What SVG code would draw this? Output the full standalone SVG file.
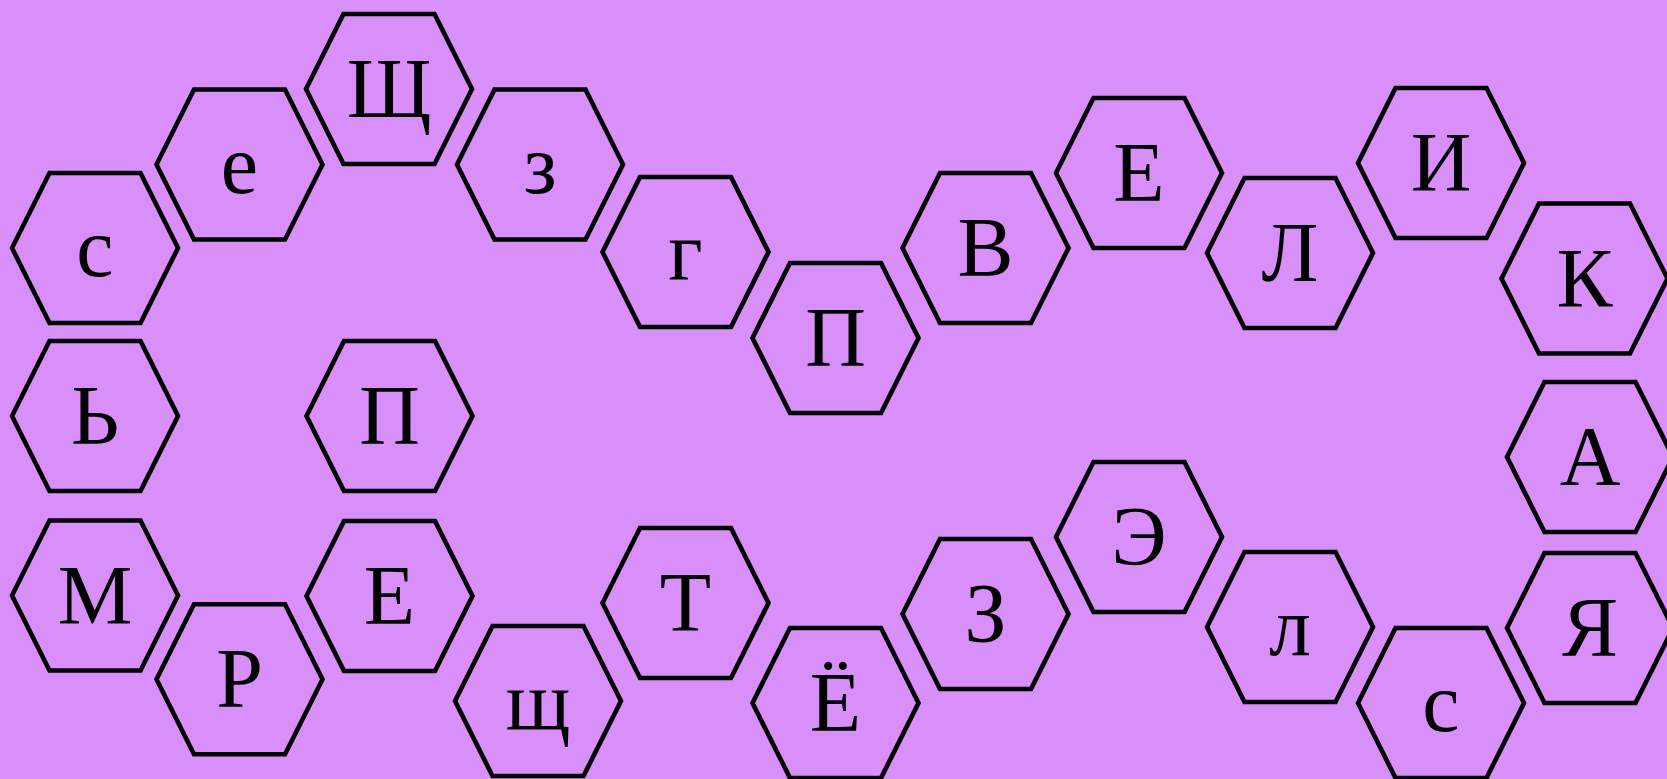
<svg xmlns="http://www.w3.org/2000/svg" width="1667" height="779" viewBox="0 0 1667 779">
<style>
.hex{fill:none;stroke:#000;stroke-width:4.6;stroke-linejoin:miter}
.t{font-family:"Liberation Serif","Times New Roman",serif;font-size:84px;fill:#000;text-anchor:middle}
</style>
<defs>
<polygon id="hx" class="hex" points="-83,0 -45.5,-75 45.5,-75 83,0 45.5,75 -45.5,75"/>
</defs>
<rect width="1667" height="779" fill="#d98ffa"/>
<g id="n1" transform="translate(95,248)"><use href="#hx"/><text class="t" y="28">с</text></g>
<g id="n2" transform="translate(239.5,164.5)"><use href="#hx"/><text class="t" y="28">е</text></g>
<g id="n3" transform="translate(389,89)"><use href="#hx"/><text class="t" y="28">Щ</text></g>
<g id="n4" transform="translate(540,164.5)"><use href="#hx"/><text class="t" y="28">з</text></g>
<g id="n5" transform="translate(685.5,252)"><use href="#hx"/><text class="t" y="28">г</text></g>
<g id="n6" transform="translate(835.5,338)"><use href="#hx"/><text class="t" y="28">П</text></g>
<g id="n7" transform="translate(985.5,248)"><use href="#hx"/><text class="t" y="28">В</text></g>
<g id="n8" transform="translate(1139,173)"><use href="#hx"/><text class="t" y="28">Е</text></g>
<g id="n9" transform="translate(1290,253)"><use href="#hx"/><text class="t" y="28">Л</text></g>
<g id="n10" transform="translate(1441,163)"><use href="#hx"/><text class="t" y="28">И</text></g>
<g id="n11" transform="translate(1584.5,278.5)"><use href="#hx"/><text class="t" y="28">К</text></g>
<g id="n12" transform="translate(95,416)"><use href="#hx"/><text class="t" y="28">Ь</text></g>
<g id="n13" transform="translate(389.5,416)"><use href="#hx"/><text class="t" y="28">П</text></g>
<g id="n14" transform="translate(1590,457)"><use href="#hx"/><text class="t" y="28">А</text></g>
<g id="n15" transform="translate(95,595.5)"><use href="#hx"/><text class="t" y="28">М</text></g>
<g id="n16" transform="translate(239.5,679.3)"><use href="#hx"/><text class="t" y="28">Р</text></g>
<g id="n17" transform="translate(389.5,596)"><use href="#hx"/><text class="t" y="28">Е</text></g>
<g id="n18" transform="translate(538,701)"><use href="#hx"/><text class="t" y="28">щ</text></g>
<g id="n19" transform="translate(685.5,603)"><use href="#hx"/><text class="t" y="28">Т</text></g>
<g id="n20" transform="translate(835.5,703)"><use href="#hx"/><text class="t" y="28">Ё</text></g>
<g id="n21" transform="translate(985.5,614)"><use href="#hx"/><text class="t" y="28">З</text></g>
<g id="n22" transform="translate(1139,537)"><use href="#hx"/><text class="t" y="28">Э</text></g>
<g id="n23" transform="translate(1290,627)"><use href="#hx"/><text class="t" y="28">л</text></g>
<g id="n24" transform="translate(1441,703)"><use href="#hx"/><text class="t" y="28">с</text></g>
<g id="n25" transform="translate(1590,628)"><use href="#hx"/><text class="t" y="28">Я</text></g>
</svg>
